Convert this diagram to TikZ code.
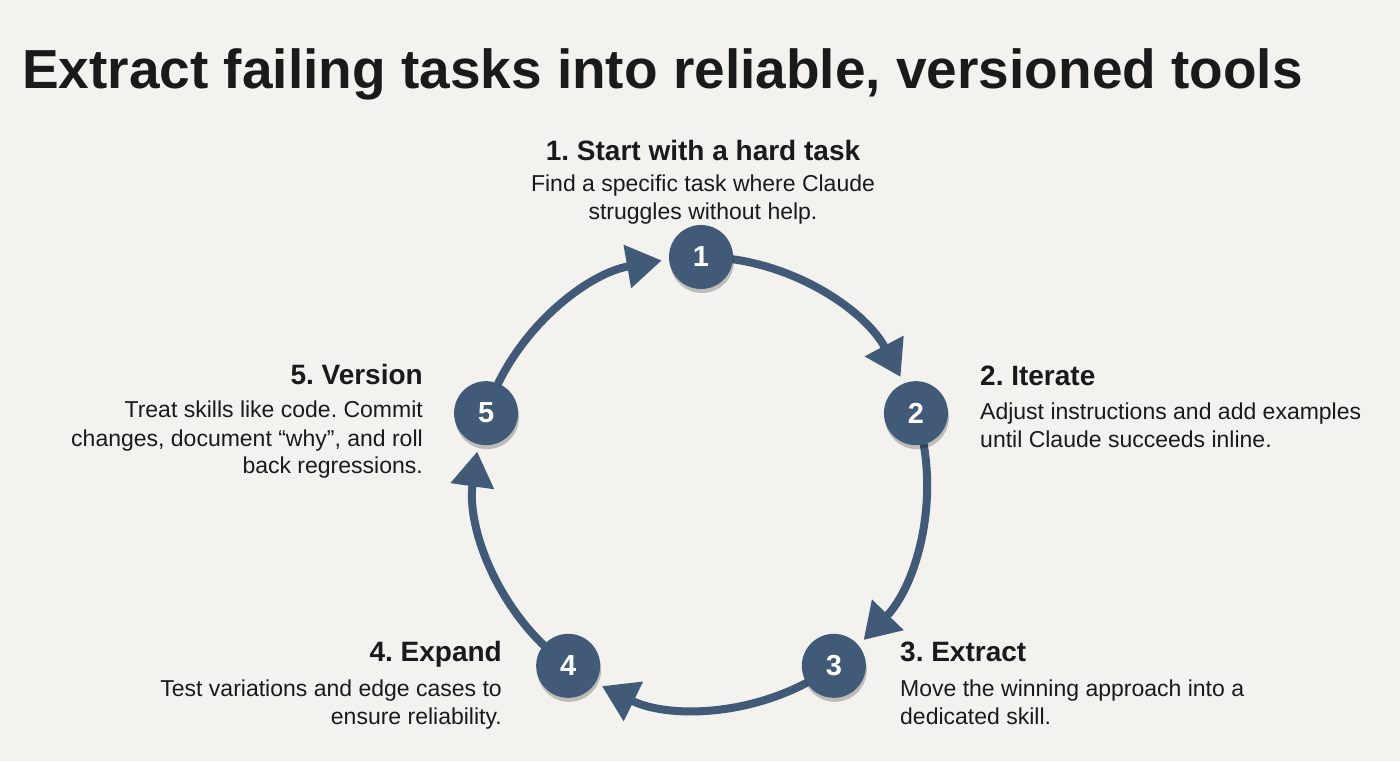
\documentclass[tikz,border=0pt]{standalone}
\usepackage{fontspec}
\setmainfont{Liberation Sans}
\usetikzlibrary{arrows.meta,calc,shadows}
\definecolor{StepClr}{RGB}{64,90,120}
\definecolor{PaperClr}{RGB}{243,242,238}
\definecolor{InkClr}{RGB}{26,26,28}
\frenchspacing

\tikzset{
  stepdot/.style={circle,fill=StepClr,minimum size=64pt,inner sep=0pt,
    text=white,font=\fontsize{29}{29}\selectfont\bfseries,
    drop shadow={shadow xshift=1pt,shadow yshift=-4pt,opacity=.22,fill=black}},
  flow/.style={draw=StepClr,line width=8pt,
    -{Triangle[length=35pt,width=42pt]}},
  head/.style={inner sep=0pt,text=InkClr,font=\fontsize{28}{28}\selectfont\bfseries},
  desc/.style={inner sep=0pt,text=InkClr,font=\fontsize{23}{28}\selectfont},
}

\begin{document}
\begin{tikzpicture}[x=1pt,y=1pt]
\useasboundingbox[fill=PaperClr] (0,0) rectangle (1400,761);

\coordinate (O) at (701,278);
\def\rad{226}

% title
\node[anchor=base west,inner sep=0pt,text=InkClr,
  font=\fontsize{55}{55}\selectfont\bfseries] (title) at (22,672)
  {Extract failing tasks into reliable, versioned tools};

% arcs between the steps
\foreach \a/\b in {90/18,18/-54,-54/-126,-126/-198,-198/-270}
  \draw[flow] ($(O)+(\a-8:\rad)$) arc[start angle=\a-8,end angle=\b+10,radius=\rad];

% numbered dots
\foreach \n/\a in {1/90,2/18,3/-54,4/-126,5/162}
  \node[stepdot] (s\n) at ($(O)+(\a:\rad)$) {\n};

% step texts (base = last line)
\node[head,anchor=base] (h1) at (703,600) {1. Start with a hard task};
\node[desc,anchor=base,align=center] (d1) at (703,541)
  {Find a specific task where Claude\\struggles without help.};

\node[head,anchor=base west] (h2) at (980,375) {2. Iterate};
\node[desc,anchor=base west,align=left] (d2) at (980,313)
  {Adjust instructions and add examples\\until Claude succeeds inline.};

\node[head,anchor=base west] (h3) at (900,100) {3. Extract};
\node[desc,anchor=base west,align=left] (d3) at (900,37)
  {Move the winning approach into a\\dedicated skill.};

\node[head,anchor=base east] (h4) at (502,100) {4. Expand};
\node[desc,anchor=base east,align=right] (d4) at (502,37)
  {Test variations and edge cases to\\ensure reliability.};

\node[head,anchor=base east] (h5) at (423,376) {5. Version};
\node[desc,anchor=base east,align=right] (d5) at (423,287)
  {Treat skills like code. Commit\\changes, document “why”, and roll\\back regressions.};
\end{tikzpicture}
\end{document}
